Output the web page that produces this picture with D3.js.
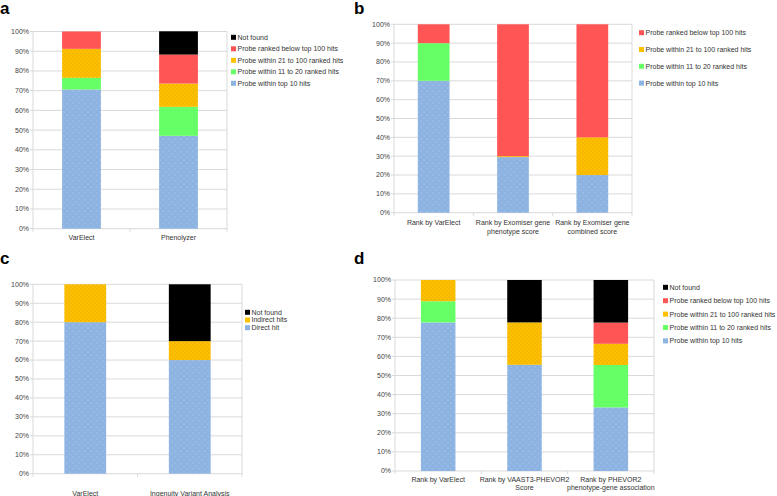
<!DOCTYPE html>
<html><head><meta charset="utf-8">
<script src="https://cdn.jsdelivr.net/npm/d3@7"></script>
<style>
body{margin:0;background:#fff;}
svg{display:block;font-family:"Liberation Sans",Arial,sans-serif;}
</style></head><body>
<svg id="c" width="777" height="496"></svg>
<script>
// ---- data (percent) ----
const yTicks = [0,10,20,30,40,50,60,70,80,90,100];

// Panel a
const catsA = ["VarElect", "Phenolyzer"];
const aTop10 = [70.6, 47.1];
const a11to20 = [5.9, 14.7];
const a21to100 = [14.7, 11.8];
const aBelow100 = [8.8, 14.7];
const aNotFound = [0, 11.8];

// Panel b
const catsB = [["Rank by VarElect"], ["Rank by Exomiser gene", "phenotype score"], ["Rank by Exomiser gene", "combined score"]];
const bTop10 = [70, 29.5, 20];
const b11to20 = [20, 0, 0];
const b21to100 = [0, 0.5, 20];
const bBelow100 = [10, 70, 60];

// Panel c
const catsC = ["VarElect", "Ingenuity Variant Analysis"];
const cDirect = [80, 60];
const cIndirect = [20, 10];
const cNotFound = [0, 30];

// Panel d
const catsD = [["Rank by VarElect"], ["Rank by VAAST3-PHEVOR2", "Score"], ["Rank by PHEVOR2", "phenotype-gene association"]];
const dTop10 = [77.8, 55.6, 33.3];
const d11to20 = [11.1, 0, 22.2];
const d21to100 = [11.1, 22.2, 11.1];
const dBelow100 = [0, 0, 11.1];
const dNotFound = [0, 22.2, 22.3];

const names = {
  top10: "Probe within top 10 hits",
  r11: "Probe within 11 to 20 ranked hits",
  r21: "Probe within 21 to 100 ranked hits",
  below: "Probe ranked below top 100 hits",
  nf: "Not found",
  direct: "Direct hit",
  indirect: "Indirect hits"
};

const svg = d3.select("#c");
const defs = svg.append("defs");
// blue with light dots
const pb = defs.append("pattern").attr("id","pBlue").attr("width",6).attr("height",6).attr("patternUnits","userSpaceOnUse");
pb.append("rect").attr("width",6).attr("height",6).attr("fill","#8db3e2");
pb.append("circle").attr("cx",1).attr("cy",1).attr("r",0.45).attr("fill","#dfe9f7");
pb.append("circle").attr("cx",4).attr("cy",4).attr("r",0.45).attr("fill","#dfe9f7");
// yellow with dark dots
const py = defs.append("pattern").attr("id","pYel").attr("width",4).attr("height",4).attr("patternUnits","userSpaceOnUse");
py.append("rect").attr("width",4).attr("height",4).attr("fill","#ffc000");
py.append("circle").attr("cx",1).attr("cy",1).attr("r",0.4).attr("fill","#a87a10");
py.append("circle").attr("cx",3).attr("cy",3).attr("r",0.4).attr("fill","#a87a10");

const fills = {top10:"url(#pBlue)", direct:"url(#pBlue)", r11:"#66ff66", r21:"url(#pYel)", indirect:"url(#pYel)", below:"#ff5555", nf:"#000000"};
const legFill = {top10:"#8db3e2", direct:"#8db3e2", r11:"#66ff66", r21:"#ffc000", indirect:"#ffc000", below:"#ff5555", nf:"#000000"};

function panel(cfg){
  const g = svg.append("g");
  const x = d3.scaleBand().domain(d3.range(cfg.cats.length)).range([cfg.left, cfg.right]).paddingInner(0.6).paddingOuter(0.3);
  const y = d3.scaleLinear().domain([0,100]).range([cfg.bottom, cfg.top]);
  const step = (cfg.right - cfg.left) / cfg.cats.length;
  // gridlines
  g.selectAll("line.grid").data(yTicks).join("line")
    .attr("x1", cfg.left-3).attr("x2", cfg.right)
    .attr("y1", d=>y(d)).attr("y2", d=>y(d))
    .attr("stroke", "#d9d9d9").attr("stroke-width", 1);
  // frame
  g.append("line").attr("x1",cfg.left).attr("x2",cfg.left).attr("y1",cfg.top).attr("y2",cfg.bottom+3).attr("stroke","#d9d9d9");
  g.append("line").attr("x1",cfg.right).attr("x2",cfg.right).attr("y1",cfg.top).attr("y2",cfg.bottom+3).attr("stroke","#d9d9d9");
  g.selectAll("line.xt").data(d3.range(1,cfg.cats.length)).join("line")
    .attr("x1",i=>cfg.left+i*step).attr("x2",i=>cfg.left+i*step)
    .attr("y1",cfg.bottom).attr("y2",cfg.bottom+3).attr("stroke","#d9d9d9");
  // y labels
  g.selectAll("text.yl").data(yTicks).join("text")
    .attr("x", cfg.left-4).attr("y", d=>y(d)+2.4)
    .attr("text-anchor","end").attr("font-size",7).attr("fill","#444")
    .text(d=>d+"%");
  // stacks
  const keys = cfg.series.map(s=>s.key);
  const rows = cfg.cats.map((c,i)=>{const o={i}; cfg.series.forEach(s=>o[s.key]=s.values[i]); return o;});
  const stack = d3.stack().keys(keys)(rows);
  stack.forEach(layer=>{
    g.selectAll(null).data(layer).join("rect")
      .attr("x", d=>x(d.data.i)).attr("width", x.bandwidth())
      .attr("y", d=>y(d[1])).attr("height", d=>Math.max(0, y(d[0])-y(d[1])))
      .attr("fill", fills[layer.key]);
  });
  // category labels
  cfg.cats.forEach((c,i)=>{
    const lines = Array.isArray(c)? c : [c];
    lines.forEach((t,j)=>{
      g.append("text").attr("x", x(i)+x.bandwidth()/2).attr("y", cfg.labelY + j*8.3)
        .attr("text-anchor","middle").attr("font-size",7).attr("fill","#333").text(t);
    });
  });
  // legend (reverse order)
  const leg = cfg.series.slice().reverse().filter(s=>!s.hideLegend);
  leg.forEach((s,j)=>{
    const cy = cfg.legY + j*cfg.legStep;
    g.append("rect").attr("x",cfg.legX).attr("y",cy-2.5).attr("width",5).attr("height",5).attr("fill",legFill[s.key]);
    g.append("text").attr("x",cfg.legX+6.5).attr("y",cy+2.4).attr("font-size",7).attr("fill","#333").text(names[s.key]);
  });
  // panel letter
  g.append("text").attr("x",cfg.letterX).attr("y",cfg.letterY).attr("font-size",17).attr("font-weight","bold").attr("fill","#000").text(cfg.letter);
}

panel({letter:"a", letterX:0, letterY:14, left:33, right:227, top:31.5, bottom:228.7,
  cats:catsA, labelY:240.3, legX:231, legY:37.3, legStep:11.5,
  series:[{key:"top10",values:aTop10},{key:"r11",values:a11to20},{key:"r21",values:a21to100},{key:"below",values:aBelow100},{key:"nf",values:aNotFound}]});

panel({letter:"b", letterX:354, letterY:14, left:394, right:632, top:24.3, bottom:212.7,
  cats:catsB, labelY:225.3, legX:639, legY:32.7, legStep:16.8,
  series:[{key:"top10",values:bTop10},{key:"r11",values:b11to20},{key:"r21",values:b21to100},{key:"below",values:bBelow100}]});

panel({letter:"c", letterX:0, letterY:264, left:33, right:242, top:284.3, bottom:473.7,
  cats:catsC, labelY:495.8, legX:245, legY:312.3, legStep:7.7,
  series:[{key:"direct",values:cDirect},{key:"indirect",values:cIndirect},{key:"nf",values:cNotFound}]});

panel({letter:"d", letterX:354, letterY:264, left:395, right:654, top:280, bottom:471,
  cats:catsD, labelY:481.8, legX:663, legY:287.3, legStep:13.4,
  series:[{key:"top10",values:dTop10},{key:"r11",values:d11to20},{key:"r21",values:d21to100},{key:"below",values:dBelow100},{key:"nf",values:dNotFound}]});
</script>
</body></html>
